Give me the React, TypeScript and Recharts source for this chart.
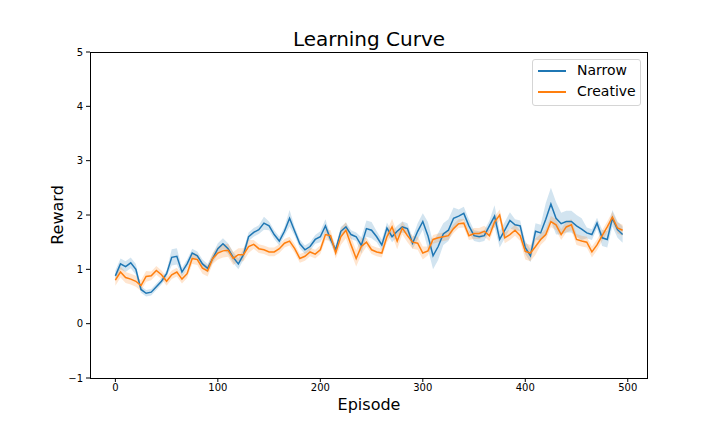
import React from 'react';
import {
  ComposedChart,
  Line,
  Area,
  XAxis,
  YAxis,
} from 'recharts';

const episodes = [
  0, 5, 10, 15, 20, 25, 30, 35, 40, 45, 50, 55, 60, 65, 70, 75, 80, 85, 90, 95,
  100, 105, 110, 115, 120, 125, 130, 135, 140, 145, 150, 155, 160, 165, 170, 175, 180, 185, 190, 195,
  200, 205, 210, 215, 220, 225, 230, 235, 240, 245, 250, 255, 260, 265, 270, 275, 280, 285, 290, 295,
  300, 305, 310, 315, 320, 325, 330, 335, 340, 345, 350, 355, 360, 365, 370, 375, 380, 385, 390, 395,
  400, 405, 410, 415, 420, 425, 430, 435, 440, 445, 450, 455, 460, 465, 470, 475, 480, 485, 490, 495,
];

const narrow = [
  0.88, 1.1, 1.05, 1.12, 1.0, 0.63, 0.56, 0.58, 0.68, 0.78, 0.92, 1.22, 1.24, 0.95, 1.1, 1.3, 1.25, 1.1, 1.02, 1.2,
  1.38, 1.47, 1.38, 1.22, 1.1, 1.27, 1.6, 1.68, 1.73, 1.85, 1.8, 1.64, 1.52, 1.7, 1.94, 1.7, 1.47, 1.36, 1.42, 1.55,
  1.6, 1.8, 1.55, 1.36, 1.7, 1.78, 1.64, 1.6, 1.44, 1.75, 1.72, 1.6, 1.45, 1.76, 1.6, 1.7, 1.78, 1.75, 1.48, 1.7,
  1.88, 1.62, 1.25, 1.42, 1.65, 1.72, 1.94, 1.98, 2.03, 1.8, 1.62, 1.6, 1.62, 1.8, 1.98, 1.55, 1.72, 1.9, 1.82, 1.8,
  1.4, 1.25, 1.7, 1.67, 1.92, 2.2, 1.94, 1.84, 1.88, 1.88, 1.8, 1.74, 1.67, 1.64, 1.85, 1.58, 1.55, 1.94, 1.73, 1.64,
];

const creative = [
  0.8, 0.95, 0.85, 0.82, 0.78, 0.7, 0.87, 0.88, 0.98, 0.9, 0.78, 0.9, 0.95, 0.82, 0.92, 1.2, 1.18, 1.02, 0.97, 1.2,
  1.3, 1.34, 1.35, 1.2, 1.27, 1.27, 1.42, 1.46, 1.38, 1.36, 1.32, 1.32, 1.38, 1.48, 1.52, 1.38, 1.2, 1.24, 1.32, 1.28,
  1.36, 1.64, 1.62, 1.3, 1.6, 1.72, 1.45, 1.2, 1.42, 1.5, 1.36, 1.32, 1.3, 1.6, 1.78, 1.52, 1.76, 1.62, 1.5, 1.48,
  1.3, 1.34, 1.55, 1.58, 1.6, 1.62, 1.75, 1.84, 1.85, 1.62, 1.66, 1.66, 1.7, 1.62, 1.87, 2.0, 1.58, 1.64, 1.72, 1.62,
  1.33, 1.3, 1.42, 1.55, 1.64, 1.88, 1.82, 1.64, 1.78, 1.82, 1.55, 1.52, 1.5, 1.32, 1.45, 1.62, 1.78, 1.96, 1.76, 1.72,
];

// half-width of the shaded band around each line
const narrowSpread = [
  0.1, 0.1, 0.1, 0.1, 0.1, 0.06, 0.06, 0.06, 0.06, 0.06, 0.06, 0.15, 0.15, 0.08, 0.08, 0.08, 0.08, 0.08, 0.08, 0.08,
  0.1, 0.1, 0.1, 0.1, 0.1, 0.1, 0.08, 0.08, 0.08, 0.12, 0.08, 0.08, 0.08, 0.08, 0.15, 0.08, 0.08, 0.08, 0.08, 0.08,
  0.1, 0.12, 0.08, 0.08, 0.08, 0.08, 0.08, 0.08, 0.15, 0.15, 0.15, 0.1, 0.1, 0.1, 0.1, 0.1, 0.1, 0.1, 0.1, 0.15,
  0.15, 0.25, 0.25, 0.25, 0.2, 0.2, 0.2, 0.12, 0.12, 0.12, 0.1, 0.1, 0.1, 0.1, 0.2, 0.15, 0.15, 0.15, 0.1, 0.1,
  0.12, 0.12, 0.15, 0.15, 0.3, 0.3, 0.3, 0.2, 0.2, 0.2, 0.2, 0.2, 0.1, 0.1, 0.1, 0.15, 0.15, 0.15, 0.15, 0.15,
];

const creativeSpread = [
  0.1, 0.1, 0.1, 0.1, 0.1, 0.1, 0.1, 0.08, 0.08, 0.08, 0.08, 0.08, 0.08, 0.08, 0.08, 0.1, 0.1, 0.1, 0.1, 0.1,
  0.12, 0.12, 0.12, 0.12, 0.12, 0.12, 0.12, 0.08, 0.08, 0.08, 0.08, 0.08, 0.08, 0.08, 0.08, 0.08, 0.08, 0.08, 0.08, 0.08,
  0.08, 0.1, 0.1, 0.1, 0.15, 0.15, 0.15, 0.15, 0.15, 0.08, 0.08, 0.08, 0.08, 0.1, 0.15, 0.15, 0.12, 0.12, 0.12, 0.12,
  0.12, 0.08, 0.08, 0.08, 0.08, 0.08, 0.08, 0.08, 0.08, 0.08, 0.1, 0.1, 0.1, 0.1, 0.1, 0.1, 0.1, 0.1, 0.1, 0.1,
  0.15, 0.15, 0.15, 0.1, 0.1, 0.1, 0.1, 0.1, 0.1, 0.1, 0.1, 0.1, 0.1, 0.1, 0.1, 0.1, 0.1, 0.1, 0.1, 0.1,
];

const xTicks = [0, 100, 200, 300, 400, 500];
const yTicks = [-1, 0, 1, 2, 3, 4, 5];

const BLUE = '#1f77b4';
const ORANGE = '#ff7f0e';
const FONT = '"DejaVu Sans", sans-serif';

const data = episodes.map((ep, i) => ({
  ep,
  narrow: narrow[i],
  creative: creative[i],
  narrowBand: [narrow[i] - narrowSpread[i], narrow[i] + narrowSpread[i]],
  creativeBand: [creative[i] - creativeSpread[i], creative[i] + creativeSpread[i]],
}));

const fmt = (v: number) => (v < 0 ? '\u2212' + Math.abs(v) : String(v));

export default function App() {
  return (
    <div style={{ position: 'absolute', left: 0, top: 0, width: 720, height: 432, background: '#fff', fontFamily: FONT }}>
      <ComposedChart width={720} height={432} data={data} margin={{ top: 52, right: 72, bottom: 24, left: 0 }}>
        <XAxis
          dataKey="ep"
          type="number"
          domain={[-24.75, 519.75]}
          ticks={xTicks}
          allowDataOverflow
          height={30}
          axisLine={false}
          tickSize={4}
          tickMargin={2}
          tickLine={{ stroke: '#000' }}
          tick={{ fill: '#000', fontSize: 10, fontFamily: FONT }}
        />
        <YAxis
          type="number"
          domain={[-1, 5]}
          ticks={yTicks}
          allowDataOverflow
          width={90}
          axisLine={false}
          tickSize={4}
          tickMargin={3}
          tickFormatter={fmt}
          tickLine={{ stroke: '#000' }}
          tick={{ fill: '#000', fontSize: 10, fontFamily: FONT }}
        />
        <Area dataKey="narrowBand" stroke="none" fill={BLUE} fillOpacity={0.2} isAnimationActive={false} activeDot={false} />
        <Line dataKey="narrow" stroke={BLUE} strokeWidth={1.5} dot={false} activeDot={false} isAnimationActive={false} />
        <Area dataKey="creativeBand" stroke="none" fill={ORANGE} fillOpacity={0.2} isAnimationActive={false} activeDot={false} />
        <Line dataKey="creative" stroke={ORANGE} strokeWidth={1.5} dot={false} activeDot={false} isAnimationActive={false} />
      </ComposedChart>

      {/* axes frame */}
      <div style={{ position: 'absolute', left: 90, top: 52, width: 558, height: 327, border: '1px solid #000', boxSizing: 'border-box', pointerEvents: 'none' }} />

      <div style={{ position: 'absolute', left: 90, width: 558, top: 27, textAlign: 'center', fontSize: 20, color: '#000' }}>
        Learning Curve
      </div>
      <div style={{ position: 'absolute', left: 90, width: 558, top: 395, textAlign: 'center', fontSize: 16, color: '#000' }}>
        Episode
      </div>
      <div style={{ position: 'absolute', left: 57, top: 215, transform: 'translate(-50%, -50%) rotate(-90deg)', fontSize: 16, color: '#000', whiteSpace: 'nowrap' }}>
        Reward
      </div>

      {/* legend */}
      <div style={{ position: 'absolute', left: 532, top: 59, width: 109, height: 47, border: '1px solid #d5d5d5', borderRadius: 3, background: 'rgba(255,255,255,0.8)', boxSizing: 'border-box' }}>
        <div style={{ position: 'absolute', left: 5, top: 10, width: 28, height: 2, background: BLUE }} />
        <div style={{ position: 'absolute', left: 44, top: 2, fontSize: 14, color: '#000' }}>Narrow</div>
        <div style={{ position: 'absolute', left: 5, top: 31, width: 28, height: 2, background: ORANGE }} />
        <div style={{ position: 'absolute', left: 44, top: 23, fontSize: 14, color: '#000' }}>Creative</div>
      </div>
    </div>
  );
}
